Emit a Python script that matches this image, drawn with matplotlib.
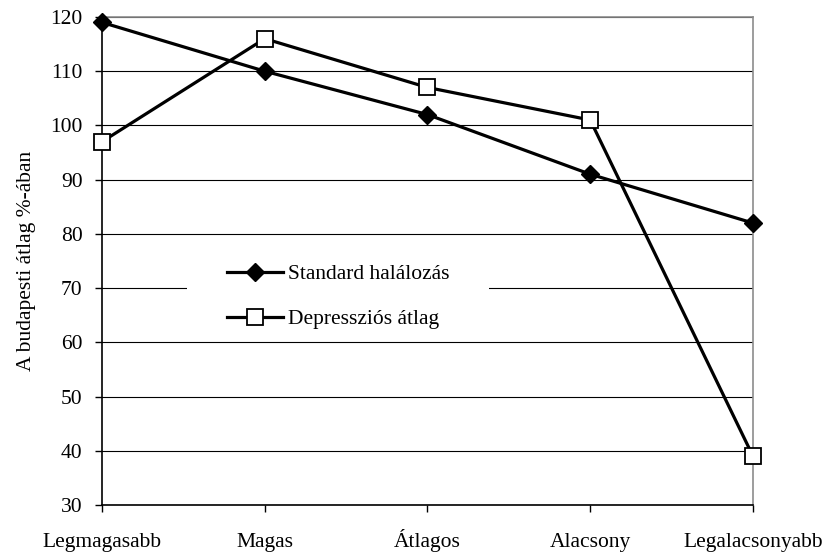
import matplotlib
matplotlib.use('Agg')
import matplotlib.pyplot as plt
from matplotlib.patches import Rectangle

categories = ['Legmagasabb', 'Magas', 'Átlagos', 'Alacsony', 'Legalacsonyabb']
standard_halalozas = [119, 110, 102, 91, 82]
depresszios_atlag = [97, 116, 107, 101, 39]
y_ticks = [30, 40, 50, 60, 70, 80, 90, 100, 110, 120]

plt.rcParams['font.family'] = ['Liberation Serif', 'DejaVu Serif']
plt.rcParams['font.size'] = 15.5

fig = plt.figure(figsize=(8.3, 5.55), dpi=100)
ax = fig.add_axes([0.1229, 0.0901, 0.7843, 0.8793])

x = list(range(len(categories)))
ax.plot(x, standard_halalozas, color='black', lw=2.3, marker='D', ms=9,
        mfc='black', mec='black', clip_on=False, zorder=4,
        label='Standard halálozás')
ax.plot(x, depresszios_atlag, color='black', lw=2.3, marker='s', ms=11,
        mfc='white', mec='black', mew=1.3, clip_on=False, zorder=4,
        label='Depressziós átlag')

ax.set_xlim(0, len(categories) - 1)
ax.set_ylim(30, 120)
ax.set_yticks(y_ticks)
ax.set_xticks(x)
ax.set_xticklabels(categories, va='baseline')
ax.yaxis.grid(True, color='black', lw=0.8)
ax.set_axisbelow(True)

ax.tick_params(axis='y', direction='out', length=5, width=1, pad=9)
ax.tick_params(axis='x', direction='out', length=5, width=1, pad=25)
for side in ('top', 'right'):
    ax.spines[side].set_color('#8c8c8c')
    ax.spines[side].set_linewidth(1.2)
for side in ('left', 'bottom'):
    ax.spines[side].set_color('black')
    ax.spines[side].set_linewidth(1.2)

ax.set_ylabel('A budapesti átlag %-ában', labelpad=10)

# white box behind the legend hides the gridline
ax.add_patch(Rectangle((0.130, 0.36), 0.464, 0.16, transform=ax.transAxes,
                       facecolor='white', edgecolor='none', zorder=2))
leg = ax.legend(loc='center left', bbox_to_anchor=(0.176, 0.427), frameon=False,
                borderpad=0, handlelength=2.6, handletextpad=0.2,
                labelspacing=1.15, fontsize=15.5)
leg.set_zorder(5)

fig.savefig('out.png', dpi=100)
